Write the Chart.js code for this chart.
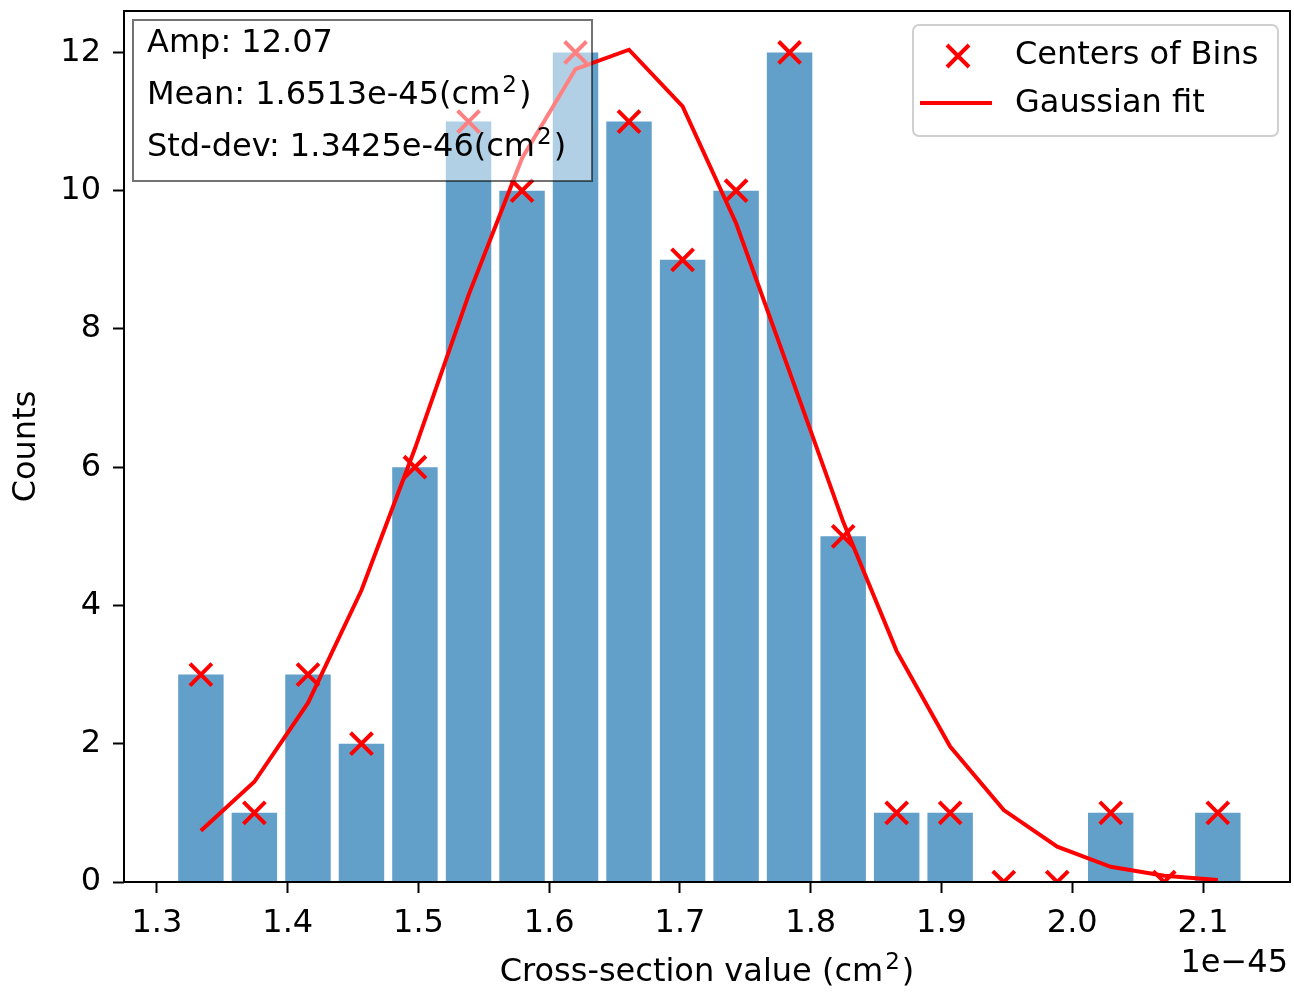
<!DOCTYPE html>
<html>
<head>
<meta charset="utf-8">
<script src="https://cdn.jsdelivr.net/npm/chart.js@4/dist/chart.umd.min.js"></script>
<style>
  html, body { margin: 0; padding: 0; background: #fff; }
  canvas { display: block; }
</style>
</head>
<body>
<canvas id="histograma" width="1294" height="993"></canvas>
<script>
// centros dos bins (x 1e-45 cm²), contagens e ajuste gaussiano
const centros = [1.3336, 1.3745, 1.4155, 1.4564, 1.4973, 1.5383, 1.5792, 1.6201, 1.6610, 1.7020,
                 1.7429, 1.7838, 1.8248, 1.8657, 1.9066, 1.9476, 1.9885, 2.0294, 2.0703, 2.1113];
const contagens = [3, 1, 3, 2, 6, 11, 10, 12, 11, 9, 10, 12, 5, 1, 1, 0, 0, 1, 0, 1];
const ajuste = [0.74, 1.45, 2.59, 4.22, 6.27, 8.49, 10.47, 11.76, 12.04, 11.22,
                9.53, 7.38, 5.21, 3.34, 1.96, 1.04, 0.51, 0.22, 0.09, 0.03];
const ticksX = [1.3, 1.4, 1.5, 1.6, 1.7, 1.8, 1.9, 2.0, 2.1];
const ticksY = [0, 2, 4, 6, 8, 10, 12];
const textoCaixa = ['Amp: 12.07', 'Mean: 1.6513e-45(cm²)', 'Std-dev: 1.3425e-46(cm²)'];
const legendas = ['Centers of Bins', 'Gaussian fit'];

const FONTE = '"DejaVu Sans", sans-serif';
const TAM = 32;
const VERMELHO = '#ff0000';

// escreve o texto trocando "²" por um 2 menor e elevado
function textoComExpoente(ctx, texto, x, y, alinhar) {
    const partes = texto.split('²');
    const normal = TAM + 'px ' + FONTE;
    const pequeno = Math.round(TAM * 0.72) + 'px ' + FONTE;
    let largura = 0;
    partes.forEach((p, i) => {
        ctx.font = normal; largura += ctx.measureText(p).width;
        if (i < partes.length - 1) { ctx.font = pequeno; largura += ctx.measureText('2').width + 4; }
    });
    let cx = alinhar === 'center' ? x - largura / 2 : (alinhar === 'right' ? x - largura : x);
    ctx.textAlign = 'left';
    partes.forEach((p, i) => {
        ctx.font = normal;
        ctx.fillText(p, cx, y);
        cx += ctx.measureText(p).width;
        if (i < partes.length - 1) {
            ctx.font = pequeno;
            ctx.fillText('2', cx + 2, y - TAM * 0.3);
            cx += ctx.measureText('2').width + 4;
        }
    });
}

// moldura, títulos dos eixos, caixa de texto e legenda
const extras = {
    id: 'extras',
    afterDraw(chart) {
        const ctx = chart.ctx;
        const a = chart.chartArea;
        ctx.save();

        ctx.strokeStyle = '#000';
        ctx.lineWidth = 2;
        ctx.strokeRect(a.left, a.top, a.right - a.left, a.bottom - a.top);

        ctx.fillStyle = '#000';
        ctx.textBaseline = 'middle';
        textoComExpoente(ctx, 'Cross-section value (cm²)', (a.left + a.right) / 2, 973, 'center');
        ctx.font = TAM + 'px ' + FONTE;
        ctx.textAlign = 'right';
        ctx.fillText('1e\u221245', a.right - 2, 964);

        ctx.save();
        ctx.translate(27, (a.top + a.bottom) / 2);
        ctx.rotate(-Math.PI / 2);
        ctx.textAlign = 'center';
        ctx.fillText('Counts', 0, 0);
        ctx.restore();

        // caixa com os parâmetros do ajuste
        ctx.fillStyle = 'rgba(255,255,255,0.5)';
        ctx.fillRect(133, 20, 459, 161);
        ctx.strokeStyle = 'rgba(0,0,0,0.55)';
        ctx.lineWidth = 2;
        ctx.strokeRect(133, 20, 459, 161);
        ctx.fillStyle = '#000';
        textoCaixa.forEach((t, i) => textoComExpoente(ctx, t, 147, 44 + i * 52, 'left'));

        // legenda
        ctx.fillStyle = 'rgba(255,255,255,0.8)';
        ctx.strokeStyle = '#d0d0d0';
        ctx.lineWidth = 2;
        ctx.beginPath();
        ctx.roundRect(913, 25, 365, 111, 6);
        ctx.fill();
        ctx.stroke();

        ctx.strokeStyle = VERMELHO;
        ctx.lineWidth = 4;
        ctx.beginPath();
        ctx.moveTo(947, 45); ctx.lineTo(969, 67);
        ctx.moveTo(969, 45); ctx.lineTo(947, 67);
        ctx.stroke();
        ctx.beginPath();
        ctx.moveTo(920, 103); ctx.lineTo(992, 103);
        ctx.stroke();

        ctx.fillStyle = '#000';
        ctx.font = TAM + 'px ' + FONTE;
        ctx.textAlign = 'left';
        ctx.fillText(legendas[0], 1015, 56);
        ctx.fillText(legendas[1], 1015, 104);
        ctx.restore();
    }
};

new Chart(document.getElementById('histograma'), {
    data: {
        datasets: [
            {
                type: 'bar',
                data: centros.map((x, i) => ({ x: x, y: contagens[i] })),
                backgroundColor: 'rgba(31,119,180,0.7)',
                categoryPercentage: 1,
                barPercentage: 0.85,
                order: 3
            },
            {
                type: 'line',
                data: centros.map((x, i) => ({ x: x, y: contagens[i] })),
                showLine: false,
                pointStyle: 'crossRot',
                pointRadius: 15.5,
                pointBorderWidth: 4,
                pointBorderColor: VERMELHO,
                clip: 0,
                order: 2
            },
            {
                type: 'line',
                data: centros.map((x, i) => ({ x: x, y: ajuste[i] })),
                borderColor: VERMELHO,
                borderWidth: 4,
                pointRadius: 0,
                tension: 0,
                fill: false,
                order: 1
            }
        ]
    },
    options: {
        responsive: false,
        animation: false,
        layout: { autoPadding: false, padding: { left: 0, top: 11, right: 4, bottom: 0 } },
        plugins: {
            legend: { display: false },
            tooltip: { enabled: false }
        },
        scales: {
            x: {
                type: 'linear',
                min: 1.2748,
                max: 2.1665,
                offset: false,
                afterFit: s => { s.height = 111; s.paddingLeft = 0; s.paddingRight = 0; },
                afterBuildTicks: s => { s.ticks = ticksX.map(v => ({ value: v })); },
                border: { display: false },
                grid: { offset: false, drawOnChartArea: false, drawTicks: true, tickLength: 11, tickWidth: 2, tickColor: '#000' },
                ticks: {
                    color: '#000',
                    font: { family: FONTE, size: TAM },
                    padding: 11,
                    maxRotation: 0,
                    callback: v => v.toFixed(1)
                }
            },
            y: {
                min: 0,
                max: 12.6,
                afterFit: s => { s.width = 124; s.paddingTop = 0; s.paddingBottom = 0; },
                afterBuildTicks: s => { s.ticks = ticksY.map(v => ({ value: v })); },
                border: { display: false },
                grid: { drawOnChartArea: false, drawTicks: true, tickLength: 11, tickWidth: 2, tickColor: '#000' },
                ticks: {
                    color: '#000',
                    font: { family: FONTE, size: TAM },
                    padding: 12,
                    callback: v => String(v)
                }
            }
        }
    },
    plugins: [extras]
});
</script>
</body>
</html>
